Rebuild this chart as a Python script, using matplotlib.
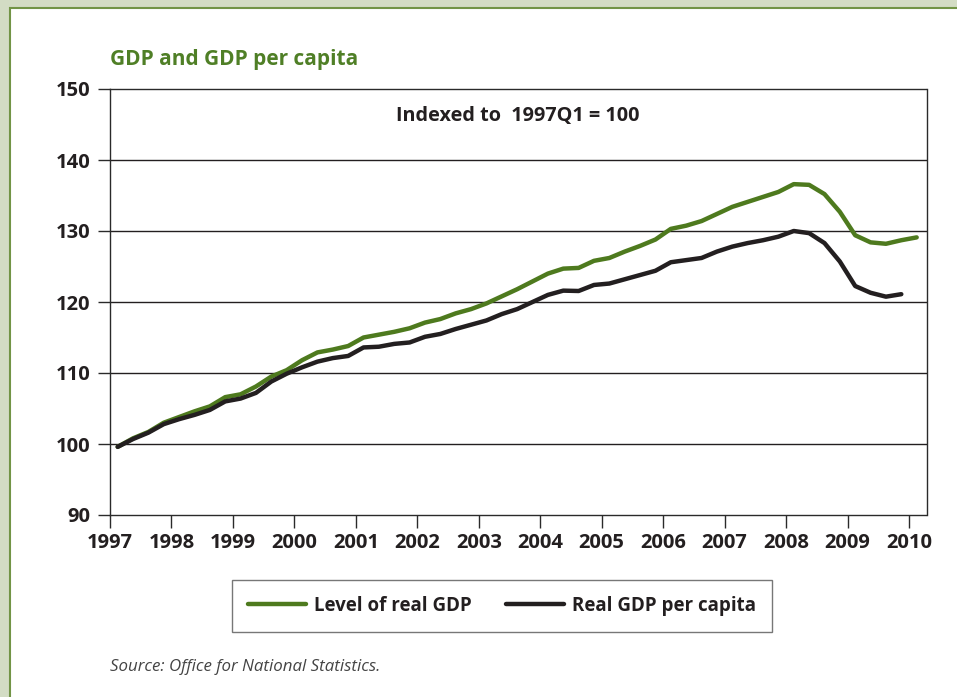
import matplotlib
matplotlib.use("Agg")
import matplotlib.pyplot as plt
from matplotlib.patches import Rectangle

quarters = [f"{y}Q{q}" for y in range(1997, 2011) for q in range(1, 5)][:53]

real_gdp = [99.6, 100.8, 101.7, 103.0, 103.8, 104.6, 105.3, 106.6, 107.0, 108.1,
            109.5, 110.4, 111.8, 112.9, 113.3, 113.8, 115.0, 115.4, 115.8, 116.3,
            117.1, 117.6, 118.4, 119.0, 119.8, 120.8, 121.8, 122.9, 124.0, 124.7,
            124.8, 125.8, 126.2, 127.1, 127.9, 128.8, 130.3, 130.75, 131.4, 132.4,
            133.4, 134.1, 134.8, 135.5, 136.6, 136.5, 135.2, 132.7, 129.4, 128.4,
            128.2, 128.7, 129.1]

gdp_per_capita = [99.6, 100.7, 101.6, 102.8, 103.5, 104.1, 104.8, 106.0, 106.4, 107.2,
                  108.8, 109.9, 110.8, 111.6, 112.1, 112.4, 113.6, 113.7, 114.1, 114.3,
                  115.1, 115.5, 116.2, 116.8, 117.4, 118.3, 119.0, 120.0, 121.0, 121.6,
                  121.55, 122.4, 122.6, 123.2, 123.8, 124.4, 125.6, 125.9, 126.2, 127.1,
                  127.8, 128.3, 128.7, 129.2, 130.0, 129.7, 128.3, 125.7, 122.25, 121.3,
                  120.75, 121.1]

year_ticks = list(range(1997, 2011))
y_ticks = [90, 100, 110, 120, 130, 140, 150]

title = "GDP and GDP per capita"
subtitle = "Indexed to  1997Q1 = 100"
source = "Source: Office for National Statistics."
labels = ["Level of real GDP", "Real GDP per capita"]

GREEN = "#4E7A1E"
BLACK = "#231F20"
TITLE_GREEN = "#4F7F26"

def qpos(label):
    y, q = label.split("Q")
    return int(y) + (int(q) - 0.5) / 4.0

x_gdp = [qpos(q) for q in quarters[:len(real_gdp)]]
x_pc = [qpos(q) for q in quarters[:len(gdp_per_capita)]]

plt.rcParams['font.family'] = ['Open Sans', 'DejaVu Sans']

W, H = 957, 697
fig = plt.figure(figsize=(9.57, 6.97), dpi=100, facecolor="#D3DCC4")

bg = fig.add_axes([0, 0, 1, 1], zorder=-10)
bg.set_xlim(0, W)
bg.set_ylim(H, 0)
bg.axis("off")
bg.add_patch(Rectangle((10, 8), W + 20, H + 20, facecolor="white",
                       edgecolor="#729446", linewidth=1.5))

ax = fig.add_axes([110 / W, 1 - 515 / H, (926.5 - 110) / W, (515 - 89) / H], zorder=1)
ax.set_facecolor("white")
ax.set_xlim(1997, 2010.285)
ax.set_ylim(90, 150)

ax.set_yticks(y_ticks)
ax.set_xticks(year_ticks)
ax.set_xticklabels([str(y) for y in year_ticks])
for v in y_ticks[1:-1]:
    ax.axhline(v, color=BLACK, linewidth=1.0, zorder=1)

ax.plot(x_gdp, real_gdp, color=GREEN, linewidth=3.2, solid_capstyle="round",
        solid_joinstyle="round", label=labels[0], zorder=3)
ax.plot(x_pc, gdp_per_capita, color=BLACK, linewidth=3.2, solid_capstyle="round",
        solid_joinstyle="round", label=labels[1], zorder=3)

for s in ax.spines.values():
    s.set_color("#2a2a2a")
    s.set_linewidth(1.0)
ax.tick_params(axis="both", direction="out", length=9, width=1.0, color="#2a2a2a",
               labelsize=14.5, labelcolor=BLACK)
ax.tick_params(axis="y", pad=5)
ax.tick_params(axis="x", pad=4)
for lab in ax.get_xticklabels() + ax.get_yticklabels():
    lab.set_fontweight("bold")

fig.text(110 / W, 1 - 60 / H, title, color=TITLE_GREEN, fontsize=15,
         fontweight="bold", ha="left", va="center")
ax.text(0.4995, 0.937, subtitle, transform=ax.transAxes, color=BLACK,
        fontsize=14.3, fontweight="bold", ha="center", va="center")

leg = fig.legend(loc="center", bbox_to_anchor=(502 / W, 1 - 606 / H), ncol=2,
                 frameon=True, fancybox=False, handlelength=3.1,
                 handletextpad=0.45, columnspacing=1.8, borderpad=0.85,
                 prop={"weight": "bold", "size": 13.5})
leg.get_frame().set_edgecolor("#555555")
leg.get_frame().set_linewidth(1.0)
for t in leg.get_texts():
    t.set_color(BLACK)

fig.text(110 / W, 1 - 667 / H, source, color="#444444", fontsize=12.2,
         style="italic", ha="left", va="center")

fig.savefig("out.png", dpi=100, facecolor=fig.get_facecolor())
